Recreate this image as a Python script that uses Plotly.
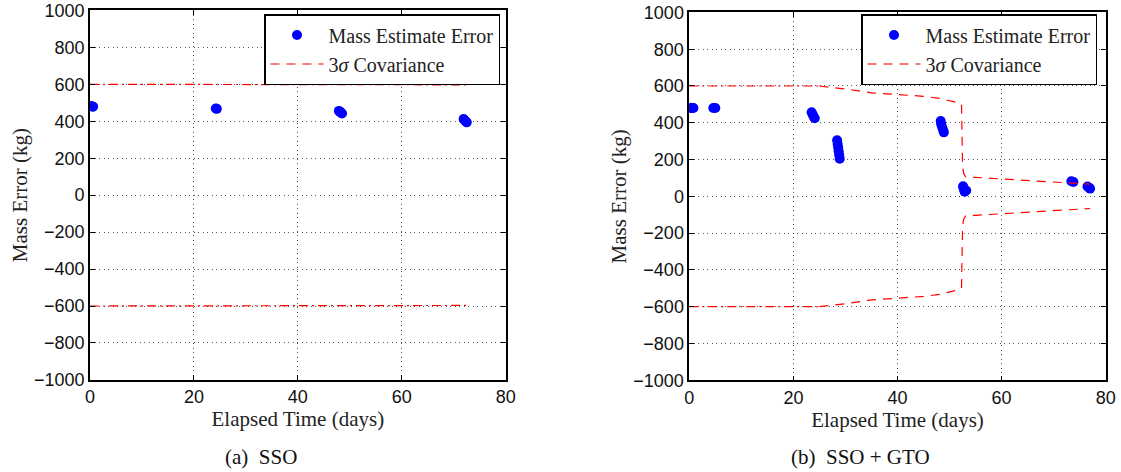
import plotly.graph_objects as go

# ---------------- (a) SSO ----------------
sso_t = [0.2, 0.4, 0.6, 24.2, 24.4, 47.9, 48.1, 48.3, 48.5, 71.9, 72.1, 72.3, 72.5]
sso_err = [482, 480, 479, 469, 467, 456, 451, 446, 442, 412, 405, 399, 394]

sso_cov_t = [0, 12, 24, 36, 48, 60, 72.6]
sso_cov_3sig = [600, 600, 599.5, 599, 598.5, 598, 597]

# ---------------- (b) SSO + GTO ----------------
gto_t = [0.2, 0.5, 0.8, 4.6, 5.0,
         23.5, 23.7, 23.9, 24.1,
         28.4, 28.5, 28.6, 28.7, 28.8, 28.9,
         48.3, 48.4, 48.6, 48.8, 48.9,
         52.6, 52.7, 52.8, 52.9, 53.2,
         73.4, 73.8,
         76.5, 76.8, 77.0]
gto_err = [481, 480, 480, 480, 480,
           457, 445, 433, 425,
           305, 285, 265, 245, 225, 205,
           410, 392, 374, 358, 348,
           55, 45, 35, 25, 32,
           82, 78,
           54, 47, 42]

# 3-sigma bound: flat before the GTO passes, then shrinking
gto_cov_flat_t = [0, 12, 25]
gto_cov_flat_3sig = [600, 600, 600]
gto_cov_t = [25, 28, 31, 35, 40, 45, 48, 50, 51.5, 52.3, 52.35, 52.4, 52.5, 52.7, 53.1,
             55, 60, 65, 70, 74, 77]
gto_cov_3sig = [600, 592, 580, 563, 553, 544, 533, 522, 510, 500, 400, 250, 170, 125, 106,
                103, 95, 87, 80, 73, 66]

legend_names = ["Mass Estimate Error", "3<i>σ</i> Covariance"]
captions = ["(a)  SSO", "(b)  SSO + GTO"]
x_ticks = [0, 20, 40, 60, 80]
y_ticks = [-1000, -800, -600, -400, -200, 0, 200, 400, 600, 800, 1000]

BLUE = "#0000ff"
RED = "#ff0000"
DASHDOT = "9px,4px,2px,4px"
DASH = "9px,7px"
SERIF = "Liberation Serif, Times New Roman, serif"

fig = go.Figure()

def neg(v):
    return [-a for a in v]

# left panel
fig.add_trace(go.Scatter(x=sso_t, y=sso_err, mode="markers", name=legend_names[0],
                         marker=dict(color=BLUE, size=10), xaxis="x", yaxis="y",
                         legend="legend", legendrank=1))
fig.add_trace(go.Scatter(x=sso_cov_t, y=sso_cov_3sig, mode="lines", showlegend=False,
                         line=dict(color=RED, width=1.2, dash=DASHDOT), xaxis="x", yaxis="y"))
fig.add_trace(go.Scatter(x=sso_cov_t, y=neg(sso_cov_3sig), mode="lines", showlegend=False,
                         line=dict(color=RED, width=1.2, dash=DASHDOT), xaxis="x", yaxis="y"))
fig.add_trace(go.Scatter(x=[None], y=[None], mode="lines", name=legend_names[1],
                         line=dict(color=RED, width=1.2, dash=DASH), xaxis="x", yaxis="y",
                         legend="legend", legendrank=2))

# right panel
fig.add_trace(go.Scatter(x=gto_t, y=gto_err, mode="markers", name=legend_names[0],
                         marker=dict(color=BLUE, size=10), xaxis="x2", yaxis="y2",
                         legend="legend2", legendrank=1))
for sign in (1, -1):
    fig.add_trace(go.Scatter(x=gto_cov_flat_t, y=[sign * a for a in gto_cov_flat_3sig],
                             mode="lines", showlegend=False,
                             line=dict(color=RED, width=1.2, dash=DASHDOT),
                             xaxis="x2", yaxis="y2"))
    fig.add_trace(go.Scatter(x=gto_cov_t, y=[sign * a for a in gto_cov_3sig],
                             mode="lines", name=legend_names[1], showlegend=(sign == 1),
                             line=dict(color=RED, width=1.2, dash=DASH),
                             xaxis="x2", yaxis="y2", legend="legend2", legendrank=2))

tick_font = dict(family="Liberation Sans, Arial, sans-serif", size=18, color="#111")
title_font = dict(family=SERIF, size=21, color="#222")

def xaxis(domain, anchor):
    return dict(domain=domain, anchor=anchor, range=[0, 80], tickvals=x_ticks,
                ticks="inside", ticklen=5, tickcolor="#000", tickwidth=1,
                showline=True, linecolor="#000", linewidth=1.6, mirror="ticks",
                showgrid=True, gridcolor="#555", gridwidth=1, griddash="1px,3.5px",
                zeroline=False, tickfont=tick_font, automargin=False,
                title=dict(text="Elapsed Time (days)", font=title_font, standoff=3))

def yaxis(domain, anchor):
    return dict(domain=domain, anchor=anchor, range=[-1000, 1000], tickvals=y_ticks,
                ticks="inside", ticklen=5, tickcolor="#000", tickwidth=1,
                showline=True, linecolor="#000", linewidth=1.6, mirror="ticks",
                showgrid=True, gridcolor="#555", gridwidth=1, griddash="1px,3.5px",
                zeroline=False, tickfont=tick_font, automargin=False,
                title=dict(text="Mass Error (kg)", font=title_font, standoff=1))

legend_common = dict(bgcolor="#ffffff", bordercolor="#000", borderwidth=1.5,
                     font=dict(family=SERIF, size=20, color="#222"),
                     xanchor="right", yanchor="top", itemwidth=53,
                     traceorder="normal", tracegroupgap=0)

fig.update_layout(
    width=1121, height=472,
    margin=dict(l=0, r=0, t=0, b=0),
    paper_bgcolor="#ffffff", plot_bgcolor="#ffffff",
    xaxis=xaxis([90 / 1121, 505.7 / 1121], "y"),
    yaxis=yaxis([(472 - 379.9) / 472, (472 - 10.4) / 472], "x"),
    xaxis2=xaxis([689.3 / 1121, 1105.7 / 1121], "y2"),
    yaxis2=yaxis([(472 - 380.3) / 472, (472 - 12.4) / 472], "x2"),
    legend=dict(x=500 / 1121, y=(472 - 14) / 472, **legend_common),
    legend2=dict(x=1097 / 1121, y=(472 - 14) / 472, **legend_common),
    annotations=[
        dict(text=captions[0], x=261 / 1121, y=(472 - 457) / 472, xref="paper", yref="paper",
             showarrow=False, xanchor="center", yanchor="middle",
             font=dict(family=SERIF, size=21, color="#111")),
        dict(text=captions[1], x=860 / 1121, y=(472 - 457) / 472, xref="paper", yref="paper",
             showarrow=False, xanchor="center", yanchor="middle",
             font=dict(family=SERIF, size=21, color="#111")),
    ],
)

fig.write_html("out.html")
